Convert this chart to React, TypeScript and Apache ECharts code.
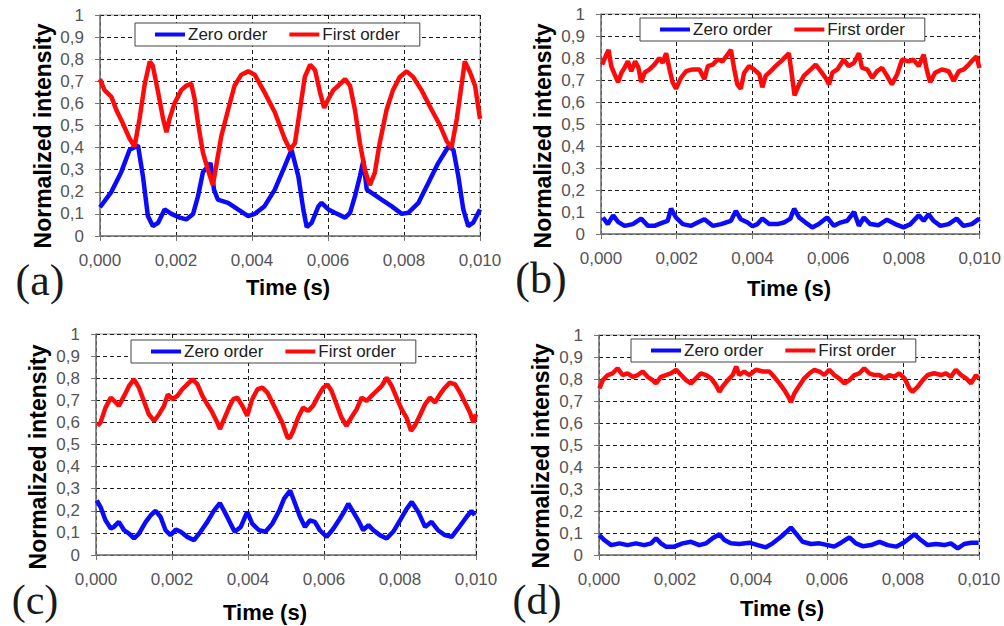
import React, { useEffect, useRef } from "react";
import * as echarts from "echarts";

// ---- tick labels ----
const xTickLabels = ["0,000", "0,002", "0,004", "0,006", "0,008", "0,010"];
const yTickLabels = ["0", "0,1", "0,2", "0,3", "0,4", "0,5", "0,6", "0,7", "0,8", "0,9", "1"];
const seriesNames = ["Zero order", "First order"];
const panelLetters = ["(a)", "(b)", "(c)", "(d)"];

// ---- data: [time (ms), normalized intensity] ----
const zeroA = [
  [0, 0.13], [0.3, 0.2], [0.56, 0.29], [0.78, 0.39], [1.0, 0.41], [1.13, 0.27], [1.26, 0.09], [1.39, 0.045],
  [1.53, 0.06], [1.7, 0.12], [1.88, 0.1], [2.1, 0.083], [2.27, 0.075], [2.45, 0.1], [2.58, 0.18], [2.71, 0.29],
  [2.84, 0.315], [2.91, 0.33], [3.0, 0.21], [3.1, 0.165], [3.37, 0.15], [3.63, 0.12], [3.9, 0.09], [4.07, 0.1],
  [4.33, 0.135], [4.6, 0.21], [4.86, 0.315], [5.04, 0.39], [5.22, 0.27], [5.35, 0.12], [5.44, 0.04], [5.57, 0.06],
  [5.75, 0.135], [5.83, 0.15], [6.01, 0.12], [6.18, 0.105], [6.45, 0.083], [6.58, 0.105], [6.71, 0.18], [6.84, 0.27],
  [6.93, 0.34], [7.02, 0.21], [7.15, 0.195], [7.41, 0.165], [7.67, 0.135], [7.94, 0.1], [8.11, 0.105], [8.38, 0.15],
  [8.64, 0.24], [8.9, 0.33], [9.17, 0.405], [9.3, 0.39], [9.43, 0.27], [9.56, 0.12], [9.69, 0.045], [9.82, 0.06],
  [10.0, 0.12],
];
const firstA = [
  [0, 0.71], [0.12, 0.66], [0.3, 0.63], [0.43, 0.57], [0.6, 0.51], [0.78, 0.44], [0.91, 0.405], [1.04, 0.53],
  [1.18, 0.69], [1.31, 0.79], [1.39, 0.77], [1.53, 0.65], [1.66, 0.53], [1.75, 0.47], [1.83, 0.53], [1.96, 0.6],
  [2.14, 0.66], [2.27, 0.68], [2.4, 0.69], [2.49, 0.62], [2.58, 0.51], [2.71, 0.376], [2.84, 0.3], [2.97, 0.23],
  [3.06, 0.32], [3.19, 0.45], [3.37, 0.57], [3.54, 0.68], [3.72, 0.73], [3.9, 0.745], [4.07, 0.73], [4.33, 0.65],
  [4.6, 0.56], [4.86, 0.44], [5.0, 0.39], [5.13, 0.42], [5.26, 0.57], [5.39, 0.72], [5.53, 0.775], [5.66, 0.75],
  [5.79, 0.65], [5.9, 0.58], [6.01, 0.62], [6.14, 0.66], [6.27, 0.68], [6.45, 0.71], [6.58, 0.68], [6.71, 0.57],
  [6.84, 0.42], [6.97, 0.3], [7.1, 0.23], [7.23, 0.285], [7.36, 0.42], [7.54, 0.57], [7.71, 0.66], [7.89, 0.72],
  [8.07, 0.745], [8.24, 0.72], [8.46, 0.66], [8.73, 0.57], [8.95, 0.5], [9.12, 0.43], [9.25, 0.4], [9.39, 0.53],
  [9.52, 0.69], [9.6, 0.79], [9.74, 0.74], [9.87, 0.68], [10.0, 0.53],
];
const zeroB = [
  [0.05, 0.075], [0.18, 0.045], [0.32, 0.085], [0.45, 0.055], [0.62, 0.037], [0.84, 0.045], [1.06, 0.07], [1.24, 0.037],
  [1.41, 0.037], [1.63, 0.052], [1.76, 0.06], [1.85, 0.115], [1.98, 0.075], [2.16, 0.045], [2.38, 0.037], [2.55, 0.052],
  [2.73, 0.067], [2.95, 0.037], [3.17, 0.045], [3.43, 0.06], [3.56, 0.105], [3.69, 0.067], [3.87, 0.052], [4.0, 0.035],
  [4.13, 0.045], [4.26, 0.07], [4.44, 0.045], [4.66, 0.045], [4.83, 0.052], [5.0, 0.07], [5.1, 0.115], [5.23, 0.075],
  [5.4, 0.052], [5.58, 0.03], [5.75, 0.045], [5.97, 0.075], [6.15, 0.037], [6.32, 0.052], [6.5, 0.06], [6.68, 0.1],
  [6.81, 0.037], [6.94, 0.075], [7.11, 0.045], [7.33, 0.04], [7.55, 0.065], [7.77, 0.045], [7.99, 0.03], [8.17, 0.045],
  [8.39, 0.085], [8.52, 0.06], [8.65, 0.09], [8.78, 0.06], [8.96, 0.037], [9.18, 0.045], [9.39, 0.07], [9.57, 0.037],
  [9.79, 0.045], [9.99, 0.07],
];
const firstB = [
  [0.03, 0.77], [0.14, 0.815], [0.2, 0.837], [0.27, 0.763], [0.36, 0.726], [0.45, 0.69], [0.54, 0.733], [0.62, 0.755],
  [0.71, 0.785], [0.8, 0.74], [0.9, 0.785], [0.99, 0.755], [1.06, 0.69], [1.15, 0.733], [1.28, 0.748], [1.41, 0.77],
  [1.54, 0.8], [1.63, 0.778], [1.72, 0.822], [1.81, 0.748], [1.89, 0.69], [1.98, 0.66], [2.11, 0.71], [2.25, 0.74],
  [2.42, 0.748], [2.6, 0.748], [2.73, 0.704], [2.82, 0.763], [2.95, 0.77], [3.08, 0.793], [3.21, 0.785], [3.34, 0.815],
  [3.43, 0.837], [3.52, 0.748], [3.6, 0.68], [3.69, 0.66], [3.78, 0.733], [3.91, 0.763], [4.04, 0.748], [4.18, 0.726],
  [4.26, 0.667], [4.35, 0.72], [4.48, 0.74], [4.61, 0.763], [4.75, 0.785], [4.88, 0.807], [4.96, 0.822], [5.05, 0.71],
  [5.11, 0.63], [5.23, 0.68], [5.36, 0.72], [5.54, 0.748], [5.67, 0.77], [5.8, 0.74], [5.93, 0.71], [6.02, 0.68],
  [6.11, 0.733], [6.24, 0.748], [6.41, 0.793], [6.54, 0.763], [6.68, 0.778], [6.81, 0.822], [6.89, 0.755], [7.03, 0.748],
  [7.16, 0.71], [7.29, 0.74], [7.42, 0.755], [7.55, 0.72], [7.68, 0.68], [7.82, 0.726], [7.95, 0.793], [8.12, 0.785],
  [8.25, 0.793], [8.39, 0.763], [8.52, 0.815], [8.61, 0.74], [8.69, 0.69], [8.82, 0.733], [9.0, 0.748], [9.18, 0.74],
  [9.31, 0.696], [9.45, 0.74], [9.58, 0.748], [9.71, 0.77], [9.83, 0.793], [9.92, 0.807], [9.99, 0.755],
];
const zeroC = [
  [0.02, 0.247], [0.12, 0.217], [0.25, 0.157], [0.39, 0.12], [0.47, 0.127], [0.6, 0.15], [0.74, 0.112], [0.87, 0.097],
  [1.0, 0.075], [1.13, 0.097], [1.31, 0.15], [1.44, 0.18], [1.57, 0.2], [1.7, 0.172], [1.83, 0.112], [1.96, 0.09],
  [2.1, 0.115], [2.23, 0.105], [2.4, 0.082], [2.58, 0.067], [2.75, 0.105], [2.93, 0.15], [3.1, 0.2], [3.26, 0.235],
  [3.41, 0.187], [3.54, 0.142], [3.65, 0.105], [3.81, 0.127], [3.98, 0.195], [4.11, 0.142], [4.29, 0.112], [4.46, 0.105],
  [4.64, 0.142], [4.82, 0.2], [4.95, 0.255], [5.11, 0.292], [5.24, 0.232], [5.37, 0.172], [5.5, 0.127], [5.63, 0.157],
  [5.76, 0.15], [5.89, 0.112], [6.07, 0.082], [6.25, 0.12], [6.42, 0.165], [6.55, 0.202], [6.64, 0.232], [6.77, 0.195],
  [6.9, 0.157], [7.03, 0.112], [7.17, 0.135], [7.3, 0.112], [7.47, 0.09], [7.65, 0.075], [7.82, 0.105], [8.0, 0.157],
  [8.18, 0.21], [8.31, 0.24], [8.48, 0.195], [8.66, 0.127], [8.83, 0.15], [9.0, 0.112], [9.18, 0.09], [9.36, 0.082],
  [9.53, 0.12], [9.75, 0.172], [9.88, 0.2], [9.97, 0.18],
];
const firstC = [
  [0.04, 0.585], [0.12, 0.6], [0.25, 0.667], [0.39, 0.712], [0.52, 0.69], [0.6, 0.675], [0.74, 0.72], [0.87, 0.765],
  [1.0, 0.795], [1.13, 0.757], [1.26, 0.697], [1.39, 0.637], [1.53, 0.607], [1.66, 0.637], [1.79, 0.675], [1.89, 0.727],
  [2.01, 0.705], [2.14, 0.72], [2.27, 0.75], [2.4, 0.772], [2.54, 0.795], [2.67, 0.772], [2.8, 0.72], [2.93, 0.682],
  [3.06, 0.645], [3.19, 0.6], [3.26, 0.57], [3.37, 0.615], [3.5, 0.667], [3.61, 0.705], [3.72, 0.712], [3.85, 0.675],
  [3.98, 0.63], [4.11, 0.705], [4.25, 0.75], [4.38, 0.757], [4.51, 0.735], [4.64, 0.69], [4.77, 0.645], [4.9, 0.6],
  [5.04, 0.532], [5.1, 0.53], [5.19, 0.562], [5.32, 0.622], [5.45, 0.667], [5.58, 0.652], [5.71, 0.675], [5.85, 0.72],
  [5.98, 0.757], [6.09, 0.772], [6.2, 0.742], [6.33, 0.682], [6.46, 0.622], [6.59, 0.585], [6.72, 0.622], [6.86, 0.66],
  [6.99, 0.712], [7.12, 0.697], [7.25, 0.72], [7.38, 0.742], [7.52, 0.765], [7.65, 0.802], [7.78, 0.765], [7.91, 0.712],
  [8.04, 0.66], [8.17, 0.622], [8.29, 0.562], [8.39, 0.585], [8.52, 0.63], [8.66, 0.682], [8.79, 0.712], [8.92, 0.69],
  [9.05, 0.727], [9.18, 0.757], [9.31, 0.78], [9.45, 0.772], [9.58, 0.735], [9.71, 0.69], [9.84, 0.645], [9.93, 0.6],
  [10.0, 0.637],
];
const zeroD = [
  [0.01, 0.09], [0.14, 0.068], [0.32, 0.045], [0.54, 0.053], [0.75, 0.045], [0.97, 0.053], [1.19, 0.045], [1.37, 0.053],
  [1.5, 0.076], [1.63, 0.053], [1.76, 0.038], [1.98, 0.038], [2.2, 0.053], [2.42, 0.06], [2.64, 0.045], [2.82, 0.053],
  [2.99, 0.076], [3.17, 0.095], [3.3, 0.068], [3.47, 0.053], [3.69, 0.05], [3.96, 0.056], [4.18, 0.045], [4.39, 0.035],
  [4.57, 0.053], [4.79, 0.083], [4.96, 0.11], [5.05, 0.125], [5.18, 0.098], [5.36, 0.06], [5.58, 0.05], [5.8, 0.053],
  [6.02, 0.045], [6.19, 0.038], [6.37, 0.056], [6.59, 0.08], [6.76, 0.053], [6.94, 0.04], [7.16, 0.045], [7.38, 0.06],
  [7.6, 0.045], [7.82, 0.038], [7.99, 0.053], [8.17, 0.076], [8.3, 0.095], [8.47, 0.068], [8.65, 0.045], [8.87, 0.05],
  [9.09, 0.045], [9.26, 0.053], [9.44, 0.03], [9.61, 0.05], [9.79, 0.056], [9.99, 0.056],
];
const firstD = [
  [0.01, 0.757], [0.1, 0.795], [0.23, 0.818], [0.36, 0.826], [0.49, 0.849], [0.62, 0.818], [0.75, 0.826], [0.89, 0.81],
  [1.02, 0.818], [1.15, 0.834], [1.28, 0.81], [1.41, 0.795], [1.5, 0.78], [1.63, 0.81], [1.76, 0.818], [1.89, 0.826],
  [2.03, 0.842], [2.16, 0.818], [2.29, 0.795], [2.42, 0.78], [2.55, 0.803], [2.68, 0.826], [2.82, 0.818], [2.95, 0.803],
  [3.08, 0.772], [3.17, 0.742], [3.25, 0.765], [3.39, 0.795], [3.52, 0.818], [3.61, 0.857], [3.69, 0.818], [3.82, 0.834],
  [3.96, 0.818], [4.13, 0.842], [4.31, 0.834], [4.48, 0.834], [4.61, 0.81], [4.75, 0.78], [4.88, 0.749], [5.01, 0.711],
  [5.05, 0.695], [5.14, 0.734], [5.28, 0.772], [5.4, 0.803], [5.54, 0.826], [5.67, 0.842], [5.8, 0.834], [5.93, 0.818],
  [6.06, 0.842], [6.19, 0.818], [6.32, 0.803], [6.46, 0.78], [6.59, 0.795], [6.72, 0.818], [6.85, 0.826], [6.98, 0.849],
  [7.11, 0.826], [7.25, 0.818], [7.38, 0.818], [7.51, 0.803], [7.64, 0.818], [7.77, 0.81], [7.9, 0.826], [8.04, 0.803],
  [8.17, 0.757], [8.25, 0.742], [8.39, 0.765], [8.52, 0.795], [8.65, 0.818], [8.82, 0.826], [9.0, 0.818], [9.13, 0.826],
  [9.26, 0.81], [9.39, 0.842], [9.53, 0.818], [9.66, 0.803], [9.79, 0.78], [9.92, 0.818], [9.99, 0.803],
];

const panelZero = [zeroA, zeroB, zeroC, zeroD];
const panelFirst = [firstA, firstB, firstC, firstD];

// ---- layout (pixels) ----
const gridBoxes = [
  { left: 100, top: 15, width: 380, height: 221 },
  { left: 601, top: 14, width: 381, height: 220 },
  { left: 96, top: 334, width: 380, height: 221 },
  { left: 599, top: 335, width: 380, height: 220 },
];
const legendPos = [
  { left: 135, top: 23 },
  { left: 640, top: 18 },
  { left: 131, top: 340 },
  { left: 631, top: 339 },
];
const yTitlePos = [[43, 136], [543, 136], [38, 457], [541, 456]];
const xTitlePos = [[288, 287], [789, 288], [265, 612], [782, 608]];
const letterPos = [[40, 280], [541, 278], [35, 600], [537, 600]];

const SANS = "'Liberation Sans', Arial, sans-serif";
const SERIF = "'Liberation Serif', 'Times New Roman', serif";
const BLUE = "#0a0aff";
const RED = "#ff0a0a";

export default function App() {
  const ref = useRef<HTMLDivElement>(null);
  useEffect(() => {
    if (!ref.current) return;
    const chart = echarts.init(ref.current, null, { renderer: "svg" });
    const toSec = (arr: number[][]) => arr.map(([t, v]) => [t / 1000, v]);

    const grid = gridBoxes.map((g) => ({
      ...g,
      show: true,
      borderColor: "#9a9a9a",
      borderWidth: 1,
      backgroundColor: "#ffffff",
      containLabel: false,
    }));

    const xAxis = gridBoxes.map((_, i) => ({
      type: "value",
      gridIndex: i,
      min: 0,
      max: 0.01,
      interval: 0.002,
      axisLine: { show: true, onZero: false, lineStyle: { color: "#777", width: 1.5 } },
      axisTick: { show: true, inside: false, length: 5, lineStyle: { color: "#777" } },
      axisLabel: {
        margin: 16,
        fontSize: 17,
        color: "#555",
        fontFamily: SANS,
        formatter: (v: number) => xTickLabels[Math.round(v / 0.002)] ?? "",
      },
      splitLine: { show: true, lineStyle: { color: "#1a1a1a", type: [4, 3], width: 1 } },
    }));

    const yAxis = gridBoxes.map((_, i) => ({
      type: "value",
      gridIndex: i,
      min: 0,
      max: 1,
      interval: 0.1,
      axisLine: { show: true, lineStyle: { color: "#777", width: 1.5 } },
      axisTick: { show: true, inside: false, length: 5, lineStyle: { color: "#777" } },
      axisLabel: {
        margin: 16,
        fontSize: 17,
        color: "#555",
        fontFamily: SANS,
        formatter: (v: number) => yTickLabels[Math.round(v / 0.1)] ?? "",
      },
      splitLine: { show: true, lineStyle: { color: "#1a1a1a", type: [4, 3], width: 1 } },
    }));

    const series: any[] = [];
    gridBoxes.forEach((_, i) => {
      series.push({
        name: seriesNames[0],
        type: "line",
        xAxisIndex: i,
        yAxisIndex: i,
        data: toSec(panelZero[i]),
        showSymbol: false,
        symbol: "none",
        lineStyle: { color: BLUE, width: 4.5 },
        itemStyle: { color: BLUE },
        z: 3,
      });
      series.push({
        name: seriesNames[1],
        type: "line",
        xAxisIndex: i,
        yAxisIndex: i,
        data: toSec(panelFirst[i]),
        showSymbol: false,
        symbol: "none",
        lineStyle: { color: RED, width: 4.5 },
        itemStyle: { color: RED },
        z: 4,
      });
    });

    const legend = legendPos.map((p) => ({
      ...p,
      data: seriesNames,
      orient: "horizontal",
      icon: "rect",
      itemWidth: 30,
      itemHeight: 4,
      itemGap: 22,
      padding: [3, 20, 3, 20],
      backgroundColor: "#ffffff",
      borderColor: "#444",
      borderWidth: 1,
      borderRadius: 0,
      selectedMode: false,
      textStyle: { fontSize: 17, color: "#222", fontFamily: SANS, padding: [0, 0, 0, -2] },
      z: 10,
    }));

    const graphic: any[] = [];
    gridBoxes.forEach((_, i) => {
      graphic.push({
        type: "text",
        x: yTitlePos[i][0],
        y: yTitlePos[i][1],
        rotation: Math.PI / 2,
        style: {
          text: "Normalized intensity",
          fontFamily: SANS,
          fontWeight: "bold",
          fontSize: 23,
          fill: "#000",
          align: "center",
          verticalAlign: "middle",
        },
      });
      graphic.push({
        type: "text",
        x: xTitlePos[i][0],
        y: xTitlePos[i][1],
        style: {
          text: "Time (s)",
          fontFamily: SANS,
          fontWeight: "bold",
          fontSize: 22,
          fill: "#000",
          align: "center",
          verticalAlign: "middle",
        },
      });
      graphic.push({
        type: "text",
        x: letterPos[i][0],
        y: letterPos[i][1],
        style: {
          text: panelLetters[i],
          fontFamily: SERIF,
          fontSize: i >= 2 ? 42 : 44,
          fill: "#1a1a1a",
          align: "center",
          verticalAlign: "middle",
        },
      });
    });

    chart.setOption({
      animation: false,
      backgroundColor: "#ffffff",
      grid,
      xAxis,
      yAxis,
      legend,
      series,
      graphic,
    });
    return () => chart.dispose();
  }, []);

  return (
    <div
      ref={ref}
      style={{ position: "absolute", left: 0, top: 0, width: 1004, height: 626, background: "#fff" }}
    />
  );
}
